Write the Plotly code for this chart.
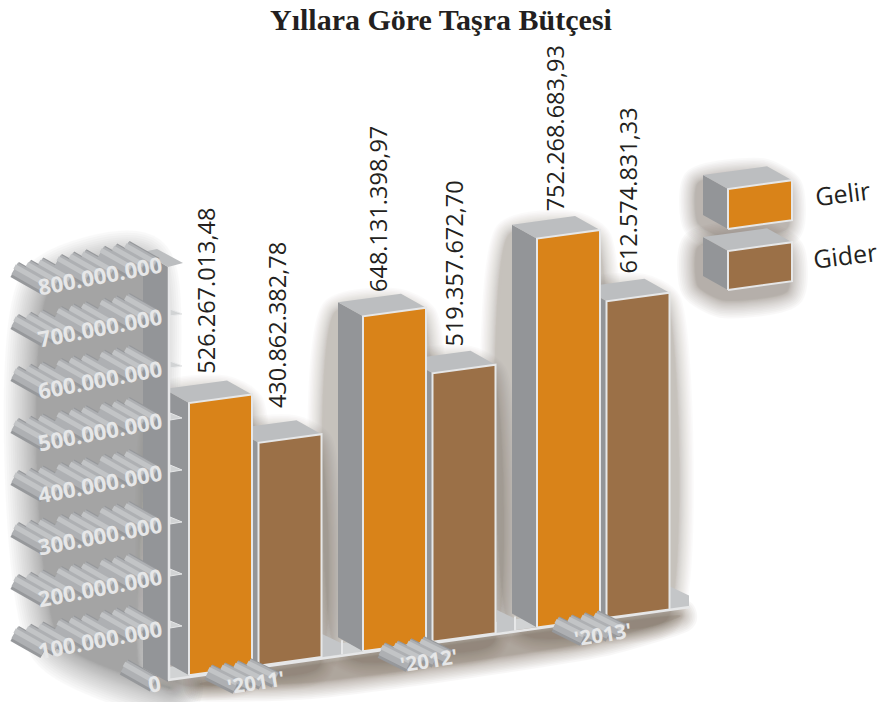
import plotly.graph_objects as go

# ---------- data ----------
years = ["'2011'", "'2012'", "'2013'"]
gelir = [526267013.48, 648131398.97, 752268683.93]
gider = [430862382.78, 519357672.70, 612574831.33]
gelir_labels = ["526.267.013,48", "648.131.398,97", "752.268.683,93"]
gider_labels = ["430.862.382,78", "519.357.672,70", "612.574.831,33"]
tick_values = [0, 100000000, 200000000, 300000000, 400000000, 500000000, 600000000, 700000000, 800000000]
tick_labels = ["0", "100.000.000", "200.000.000", "300.000.000", "400.000.000",
               "500.000.000", "600.000.000", "700.000.000", "800.000.000"]
series_names = ["Gelir", "Gider"]
title_text = "Yıllara Göre Taşra Bütçesi"

# ---------- styling / layout ----------
W, H = 885, 702
C_GELIR, C_GIDER = "#d98319", "#9b7047"
C_SIDE, C_TOP, C_EDGE, C_INK = "#939598", "#bcbec0", "#e6e7e8", "#231f20"
UNIT = 1e8 / 51.7          # value units per screen unit of the vertical axis
K = 0.1367                 # shear of the floor
X0, B0 = 168, 678
DEPTH = (-25, -14)
GROUP_LEFT = [189, 363, 537]
GIDER_STEP = 69.5
BAR_W = 63
GELIR_TXT = [(17, -108), (15, -103), (18, -106)]
GIDER_TXT = [(18, -113), (22, -105), (22, -106)]


def vy(p):
    return (680 - p) * UNIT


def base(x):
    return B0 - K * (x - X0)


fig = go.Figure()


def poly(pts, color, line=None, lw=0):
    xs = [p[0] for p in pts] + [pts[0][0]]
    ys = [vy(p[1]) for p in pts] + [vy(pts[0][1])]
    fig.add_trace(go.Scatter(x=xs, y=ys, mode="lines", fill="toself", fillcolor=color,
                             line=dict(color=line or color, width=lw), hoverinfo="skip",
                             showlegend=False))


def shadow(pts, color="#6f6458", n=16, maxw=30, a=0.022):
    xs = [p[0] for p in pts] + [pts[0][0]]
    ys = [vy(p[1]) for p in pts] + [vy(pts[0][1])]
    for i in range(n):
        w = maxw * ((n - i) / n) ** 1.7
        fig.add_trace(go.Scatter(x=xs, y=ys, mode="lines", fill="toself", fillcolor=color,
                                 line=dict(color=color, width=w, shape="spline", smoothing=0.6),
                                 opacity=a, hoverinfo="skip", showlegend=False))


def box_pts(x, bottom, h, w=BAR_W, slope=K):
    """front-left-bottom corner (x, bottom), height h in screen units"""
    bl = (x, bottom)
    br = (x + w, bottom - slope * w)
    tl = (x, bottom - h)
    tr = (x + w, bottom - slope * w - h)
    d = lambda p: (p[0] + DEPTH[0], p[1] + DEPTH[1])
    return bl, br, tl, tr, d


def box(x, bottom, h, color, w=BAR_W):
    bl, br, tl, tr, d = box_pts(x, bottom, h, w)
    poly([bl, tl, d(tl), d(bl)], C_SIDE)
    poly([tl, tr, d(tr), d(tl)], C_TOP)
    poly([bl, br, tr, tl], color, line=C_EDGE, lw=2)


def silhouette(x, bottom, h, w=BAR_W, sx=-3, sy=10):
    bl, br, tl, tr, d = box_pts(x, bottom, h, w)
    return [(p[0] + sx, p[1] + sy) for p in [bl, br, tr, d(tr), d(tl), d(bl)]]


# --- soft shadows ---
shadow([(50, 290), (140, 266), (140, 672), (170, 688), (60, 640)], color="#707070", n=24, maxw=66, a=0.032)
for i in range(3):
    for x, v in ((GROUP_LEFT[i] + GIDER_STEP, gider[i]), (GROUP_LEFT[i], gelir[i])):
        shadow(silhouette(x, base(x), v / UNIT))
shadow([(200, 684), (680, 616), (600, 640), (310, 682)], color="#6b5a48", n=16, maxw=34, a=0.04)
shadow(silhouette(728, 229, 40, w=64, sx=-5, sy=8), n=16, maxw=32, a=0.03)
shadow(silhouette(728, 290, 39, w=64, sx=-5, sy=10), n=16, maxw=36, a=0.035)

# --- floor ---
poly([(168, 680), (168, 667), (670, 598), (670, 608)], "#d1d3d4")
for gx in [322, 497, 670]:
    y = base(gx)
    poly([(gx, y), (gx, y - 23), (gx + 19, y - 14), (gx + 19, y - K * 19)], "#c4c6c8")
for gx in [342, 515]:
    fig.add_trace(go.Scatter(x=[gx, gx], y=[vy(base(gx) - 14), vy(base(gx))], mode="lines",
                             line=dict(color=C_EDGE, width=2), hoverinfo="skip", showlegend=False))
fig.add_trace(go.Scatter(x=[168, 690], y=[vy(680), vy(607)], mode="lines",
                         line=dict(color=C_EDGE, width=2.5), hoverinfo="skip", showlegend=False))

# --- bars ---
for i in range(3):
    x2 = GROUP_LEFT[i] + GIDER_STEP
    box(x2, base(x2), gider[i] / UNIT, C_GIDER)
    x1 = GROUP_LEFT[i]
    box(x1, base(x1), gelir[i] / UNIT, C_GELIR)

# --- axis wall ---
poly([(143, 252), (168, 267), (168, 682), (143, 668)], C_SIDE)
poly([(143, 252), (157, 249), (183, 263), (168, 267)], C_TOP)
for v in tick_values[1:-1]:
    y = 680 - v / 1e8 * 52
    poly([(170, y - 7), (182, y - 2), (170, y)], "#d1d3d4", line=C_EDGE, lw=1)
poly([(170, 668), (188, 675), (170, 678)], "#d1d3d4")
fig.add_trace(go.Scatter(x=[169, 169], y=[vy(267), vy(680)], mode="lines",
                         line=dict(color=C_EDGE, width=2.5), hoverinfo="skip", showlegend=False))


# --- extruded tick / year labels: ribs running back from each digit ---
def ribs(cx, cy, text, adv, angle_slope, depth):
    """segments from each digit to the back, laid out along the tilted baseline"""
    total = sum(adv * (0.5 if c in ".'" else 1) for c in text)
    pos = -total / 2
    segs = []
    for c in text:
        a = adv * (0.5 if c in ".'" else 1)
        if c not in ".'":
            px = cx + pos + a / 2
            py = cy - (pos + a / 2) * angle_slope
            segs.append((px, py, px + depth[0], py + depth[1]))
        pos += a
    return segs


all_segs = []
tick_pos = []
for v, t in zip(tick_values, tick_labels):
    y = 680 - v / 1e8 * 52
    if v == 0:
        cx, cy = 154, 683
    else:
        cx, cy = 100, y + 11
    tick_pos.append((cx, cy))
    all_segs += ribs(cx, cy, t, 12.3, 0.19, (-30, -17))

year_pos = [(256, 682), (429, 660), (603, 634)]
for (cx, cy), t in zip(year_pos, years):
    all_segs += ribs(cx, cy, t, 13, 0.16, (-28, -14))


def rib_trace(color, width, off=0):
    xs, ys = [], []
    for a, b, c, d in all_segs:
        xs += [a, c, None]
        ys += [vy(b + off), vy(d + off), None]
    fig.add_trace(go.Scatter(x=xs, y=ys, mode="lines", line=dict(color=color, width=width),
                             hoverinfo="skip", showlegend=False))


rib_trace("#96989b", 17, 1)
rib_trace("#aeb0b3", 13)
rib_trace("#c2c4c6", 5, -2)

# --- text ---
ann = []


def label(x, y, text, size, color, angle=0, font="Open Sans", bold=False):
    ann.append(dict(x=x, y=vy(y), text=("<b>%s</b>" % text) if bold else text, showarrow=False,
                    xanchor="center", yanchor="middle", textangle=angle,
                    font=dict(family=font, size=size, color=color)))


for i in range(3):
    x1 = GROUP_LEFT[i]
    xc = x1 + BAR_W / 2
    top = base(xc) - gelir[i] / UNIT
    label(x1 + GELIR_TXT[i][0], top + GELIR_TXT[i][1], gelir_labels[i], 23.5, C_INK, -90)
    x2 = x1 + GIDER_STEP
    xc = x2 + BAR_W / 2
    top = base(xc) - gider[i] / UNIT
    label(x2 + GIDER_TXT[i][0], top + GIDER_TXT[i][1], gider_labels[i], 23.5, C_INK, -90)

for (cx, cy), t in zip(tick_pos, tick_labels):
    label(cx, cy, t, 22, C_EDGE, -10.7, bold=True)
for (cx, cy), t in zip(year_pos, years):
    label(cx, cy, t, 20.5, C_EDGE, -9, bold=True)

# --- legend ---
box(728, 290, 39, C_GIDER, w=64)
box(728, 229, 40, C_GELIR, w=64)
label(842, 193, series_names[0], 25, C_INK, -7)
label(845, 255, series_names[1], 25, C_INK, -7)

label(441, 19, title_text, 30, C_INK, 0, font="Liberation Serif", bold=True)

fig.update_layout(width=W, height=H, margin=dict(l=0, r=0, t=0, b=0), autosize=False,
                  paper_bgcolor="white", plot_bgcolor="white", annotations=ann, showlegend=False,
                  xaxis=dict(range=[0, W], visible=False, fixedrange=True),
                  yaxis=dict(range=[vy(H), vy(0)], visible=False, fixedrange=True))

fig.write_html("out.html", config={"displayModeBar": False},
               post_script="document.body.style.margin='0';")
